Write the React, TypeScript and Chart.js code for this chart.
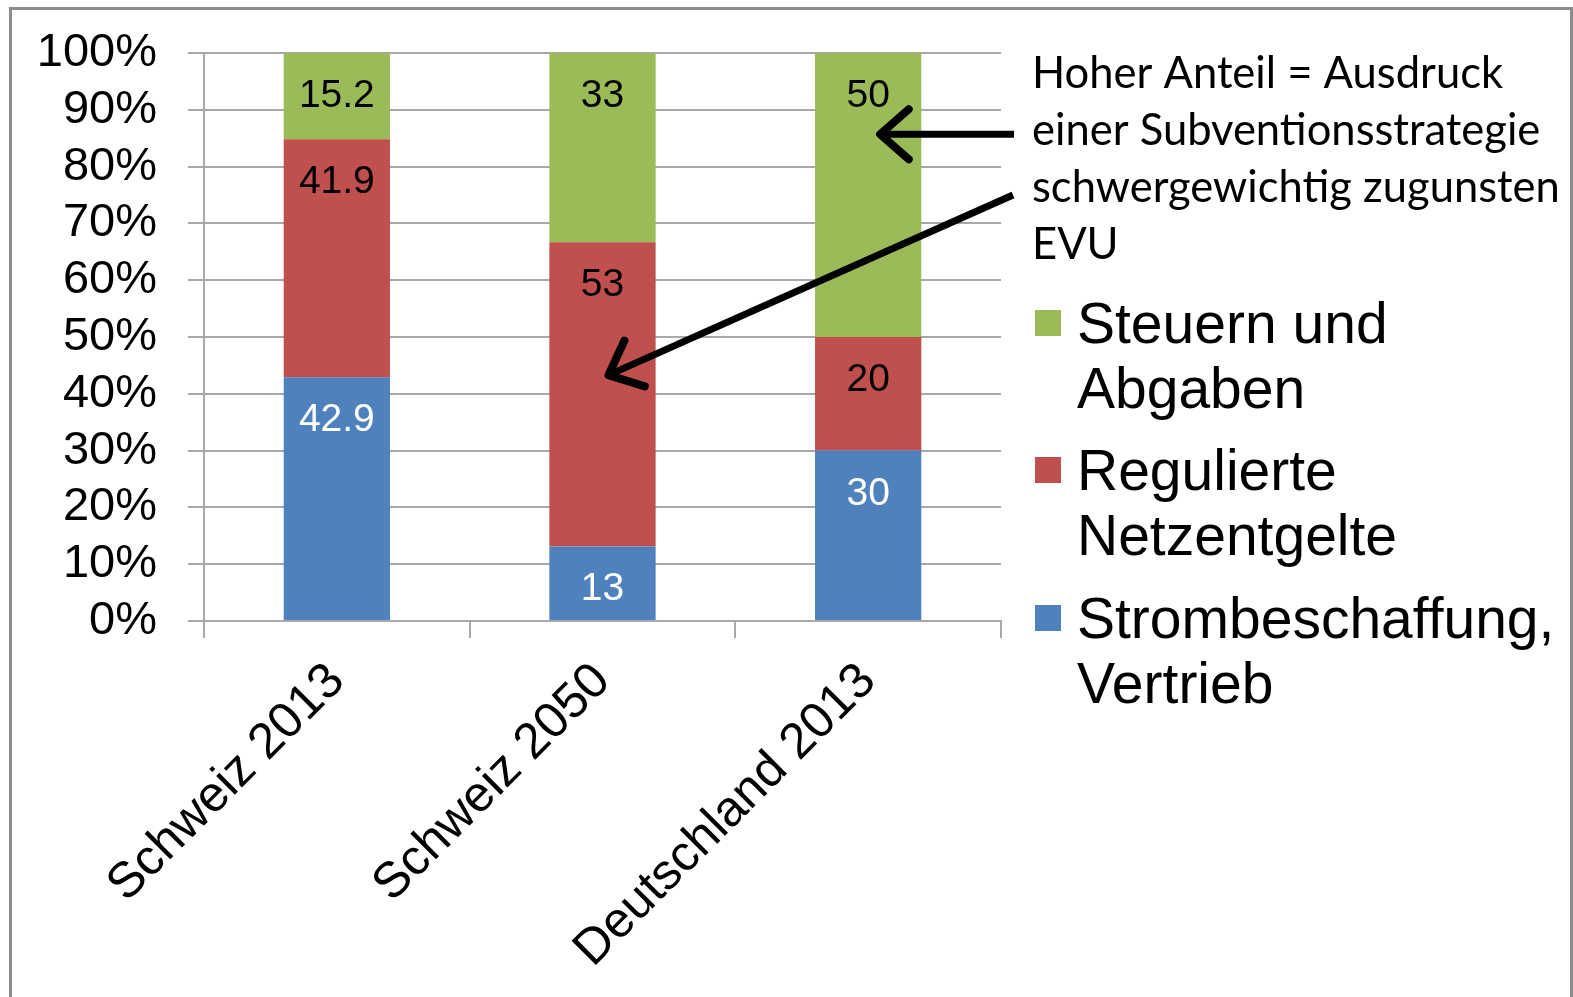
import React, { useEffect, useRef } from "react";
import { Chart, registerables } from "chart.js";

Chart.register(...registerables);

// ---- Data ----
const categories = ["Schweiz 2013", "Schweiz 2050", "Deutschland 2013"];
const strombeschaffung = [42.9, 13, 30];
const netzentgelte = [41.9, 53, 20];
const steuern = [15.2, 33, 50];
const seriesNames: string[][] = [
  ["Strombeschaffung,", "Vertrieb"],
  ["Regulierte", "Netzentgelte"],
  ["Steuern und", "Abgaben"],
];
const seriesColors = ["#4F81BD", "#C0504D", "#9BBB59"];
const valueLabelColors = ["#FFFFFF", "#000000", "#000000"];
const yTickValues = [0, 10, 20, 30, 40, 50, 60, 70, 80, 90, 100];
const annotationLines = [
  "Hoher Anteil = Ausdruck",
  "einer Subventionsstrategie",
  "schwergewichtig zugunsten",
  "EVU",
];

const rawSeries = [strombeschaffung, netzentgelte, steuern];
const totals = categories.map((_, i) => rawSeries.reduce((s, arr) => s + arr[i], 0));
const pctSeries = rawSeries.map((arr) => arr.map((v, i) => (v / totals[i]) * 100));

const ARIAL = "'Liberation Sans', Arial, sans-serif";
const GRID = "#A8A8A8";

function drawArrow(ctx: CanvasRenderingContext2D, x1: number, y1: number, x2: number, y2: number) {
  const ang = Math.atan2(y2 - y1, x2 - x1);
  const head = 38;
  const spread = 0.72;
  ctx.save();
  ctx.strokeStyle = "#000";
  ctx.lineWidth = 7;
  ctx.lineCap = "butt";
  ctx.beginPath();
  ctx.moveTo(x1, y1);
  ctx.lineTo(x2 - Math.cos(ang) * 3, y2 - Math.sin(ang) * 3);
  ctx.stroke();
  ctx.lineWidth = 8;
  ctx.lineCap = "round";
  ctx.lineJoin = "round";
  ctx.beginPath();
  ctx.moveTo(x2 - head * Math.cos(ang - spread), y2 - head * Math.sin(ang - spread));
  ctx.lineTo(x2, y2);
  ctx.lineTo(x2 - head * Math.cos(ang + spread), y2 - head * Math.sin(ang + spread));
  ctx.stroke();
  ctx.restore();
}

const decorPlugin = {
  id: "decor",
  afterDatasetsDraw(chart: any) {
    const ctx: CanvasRenderingContext2D = chart.ctx;
    // value labels near the top of each segment
    const fs = 39;
    ctx.save();
    ctx.font = `${fs}px ${ARIAL}`;
    ctx.textAlign = "center";
    ctx.textBaseline = "alphabetic";
    chart.data.datasets.forEach((ds: any, di: number) => {
      const meta = chart.getDatasetMeta(di);
      meta.data.forEach((bar: any, i: number) => {
        ctx.fillStyle = valueLabelColors[di];
        ctx.fillText(String(ds.rawValues[i]), bar.x, bar.y + 40 + (fs * 0.716) / 2);
      });
    });
    ctx.restore();
  },
  afterDraw(chart: any) {
    const ctx: CanvasRenderingContext2D = chart.ctx;
    const xs = chart.scales.x;
    const ys = chart.scales.y;
    const area = chart.chartArea;

    // legend (custom, multi-line), order reversed like the original
    const lfs = 57;
    const lineH = 65;
    const firstCenters = [618, 470, 323];
    ctx.save();
    ctx.font = `${lfs}px ${ARIAL}`;
    ctx.textAlign = "left";
    ctx.textBaseline = "alphabetic";
    chart.data.datasets.forEach((ds: any, di: number) => {
      const c = firstCenters[di];
      ctx.fillStyle = ds.backgroundColor;
      ctx.fillRect(1035, c - 13, 26, 26);
      ctx.fillStyle = "#000";
      (ds.legendLines as string[]).forEach((t, k) => {
        ctx.fillText(t, 1077, c + k * lineH + (lfs * 0.716) / 2);
      });
    });
    ctx.restore();

    // annotation text
    ctx.save();
    let afs = 44;
    ctx.font = `${afs}px Lato, 'Open Sans', sans-serif`;
    const w = ctx.measureText(annotationLines[2]).width;
    afs = afs * (528 / w);
    ctx.font = `${afs}px Lato, 'Open Sans', sans-serif`;
    ctx.fillStyle = "#000";
    ctx.textAlign = "left";
    ctx.textBaseline = "alphabetic";
    annotationLines.forEach((t, k) => ctx.fillText(t, 1032, 88 + k * 57));
    ctx.restore();

    // arrows anchored to the scales
    const x2 = xs.getPixelForValue(2);
    const x1 = xs.getPixelForValue(1);
    drawArrow(ctx, area.right + 13, ys.getPixelForValue(85.7), x2 + 12, ys.getPixelForValue(85.7));
    drawArrow(ctx, area.right + 12, ys.getPixelForValue(75), x1 + 6, ys.getPixelForValue(43.3));

    // outer frame
    ctx.save();
    ctx.strokeStyle = "#8C8C8C";
    ctx.lineWidth = 3;
    ctx.strokeRect(10.5, 8.5, 1561, 1000);
    ctx.restore();
  },
};

export default function App() {
  const ref = useRef<HTMLCanvasElement | null>(null);

  useEffect(() => {
    if (!ref.current) return;
    const chart = new Chart(ref.current, {
      type: "bar",
      data: {
        labels: categories,
        datasets: pctSeries.map((d, i) => ({
          label: seriesNames[i].join(" "),
          legendLines: seriesNames[i],
          rawValues: rawSeries[i],
          data: d,
          backgroundColor: seriesColors[i],
          borderWidth: 0,
          barPercentage: 0.4,
          categoryPercentage: 1,
        })) as any,
      },
      options: {
        responsive: false,
        animation: false,
        events: [],
        layout: { padding: { top: 53, right: 572, left: 0, bottom: 0 } },
        plugins: {
          legend: { display: false },
          tooltip: { enabled: false },
          title: { display: false },
        },
        scales: {
          x: {
            stacked: true,
            grid: {
              drawOnChartArea: false,
              drawTicks: true,
              tickLength: 17,
              color: GRID,
              lineWidth: 2,
              offset: true,
            },
            border: { display: true, color: GRID, width: 2 },
            ticks: {
              autoSkip: false,
              minRotation: 45,
              maxRotation: 45,
              padding: 14,
              color: "#000",
              font: { family: ARIAL, size: 50 },
            },
            afterFit: (s: any) => {
              s.height = 376;
              s.paddingLeft = 0;
              s.paddingRight = 0;
            },
          },
          y: {
            stacked: true,
            min: 0,
            max: 100,
            afterBuildTicks: (s: any) => {
              s.ticks = yTickValues.map((v) => ({ value: v }));
            },
            ticks: {
              autoSkip: false,
              stepSize: 10,
              padding: 31,
              color: "#000",
              font: { family: ARIAL, size: 47 },
              callback: (v: any) => `${v}%`,
            },
            grid: { color: GRID, lineWidth: 2, tickLength: 16 },
            border: { display: true, color: GRID, width: 2 },
            afterFit: (s: any) => {
              s.width = 204;
              s.paddingTop = 0;
              s.paddingBottom = 0;
            },
          },
        },
      } as any,
      plugins: [decorPlugin],
    });
    return () => chart.destroy();
  }, []);

  return (
    <div style={{ position: "fixed", left: 0, top: 0, width: 1573, height: 997, background: "#fff" }}>
      <canvas ref={ref} width={1573} height={997} style={{ display: "block" }} />
    </div>
  );
}
